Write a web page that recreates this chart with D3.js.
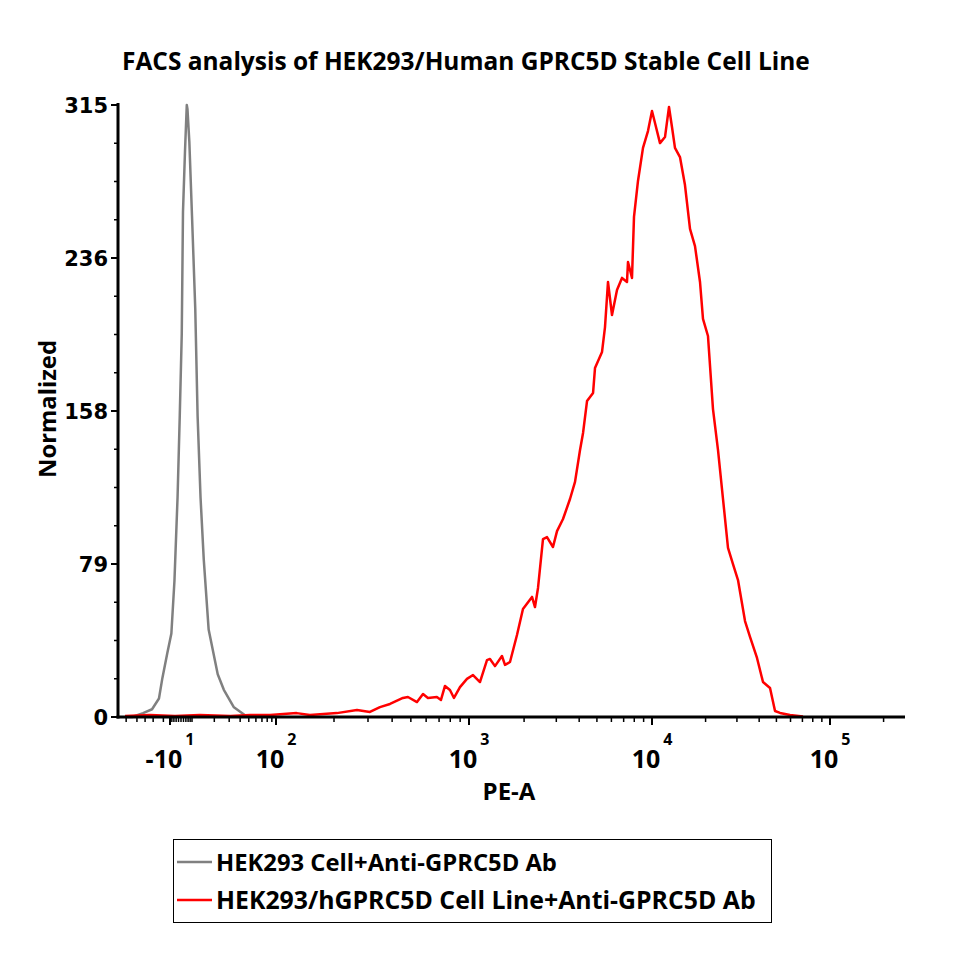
<!DOCTYPE html>
<html><head><meta charset="utf-8">
<script src="https://cdn.jsdelivr.net/npm/d3@7"></script>
<style>body{margin:0;background:#fff} svg{display:block}</style>
</head><body>
<script>
// ---------------- data ----------------
const title = "FACS analysis of HEK293/Human GPRC5D Stable Cell Line";
const xLabel = "PE-A";
const yLabel = "Normalized";
const seriesNames = ["HEK293 Cell+Anti-GPRC5D Ab", "HEK293/hGPRC5D Cell Line+Anti-GPRC5D Ab"];
const seriesColors = ["#808080", "#ff0000"];
const yMax = 315;
const yTickValues = [0, 78.75, 157.5, 236.25, 315];
const yTickLabels = ["0", "79", "158", "236", "315"];
const xMajorTicks = [-10, 100, 1000, 10000, 100000];
const xMajorBase = ["-10", "10", "10", "10", "10"];
const xMajorExp = ["1", "2", "3", "4", "5"];

// HEK293 cell (gray) — PE-A value and normalized count
const grayPE = [-552, -300, -119, -55, -30, -22, -13.5, -8.5, -5.5, -2.8, -1.0, 0.6, 1.6, 3.3, 4.8, 5.4, 7.2, 10, 11.2, 12.1, 13.3, 14.7, 17.0, 22, 26, 34, 45, 55];
const grayCount = [0, 0, 2, 4, 9.5, 20, 33, 43, 70, 113, 155, 197, 260, 292, 315, 313, 296, 258, 210, 155, 113, 81, 45, 22, 14, 5, 1, 0];

// HEK293/hGPRC5D (red)
const redPE = [-552, -66, -5, 13, 31, 52, 86, 128, 150, 207, 263, 307, 346, 390, 455, 483, 538, 578, 613, 682, 716, 751, 797, 836, 898, 976,
  1052, 1148, 1254, 1302, 1387, 1514, 1573, 1675, 1829, 1972, 2210, 2294, 2383, 2537, 2668, 2877, 3027, 3264, 3564, 3796, 4043, 4200, 4415, 4764, 4881,
  5332, 5536, 5748, 6045, 6438, 6855, 7300, 7393, 7775, 7973, 8384, 8929, 9506, 10000, 10396, 11090, 11830, 12460, 12950, 13460, 14360, 15320, 16350,
  17440, 18610, 19340, 20630, 22010, 23490, 25060, 26730, 28510, 30420, 33310, 35530, 38900, 42030, 46030, 49110, 52390, 59610, 70520];
const redCount = [0.5, 1, 0.5, 1, 0.5, 1, 1, 2, 1, 2, 3.6, 2.6, 5.1, 6.7, 9.8, 10.3, 7.7, 11.8, 9.8, 10.3, 8.8, 16, 13.9, 9.8, 15.4, 19.6,
  21.6, 18, 29.3, 29.9, 26.2, 31.4, 26.8, 28.3, 42.2, 55.6, 61.8, 56.6, 66.4, 91.6, 92.6, 87.5, 95.7, 101.9, 112.2, 121, 137.4, 146.2, 162.6, 166.8, 179.6,
  187.9, 200.7, 223.9, 206.9, 219.8, 226, 223.9, 234.2, 226, 257.4, 275.9, 292.9, 301.6, 311.9, 305.7, 295.4, 298.5, 314, 303.7, 292.9, 288.2, 273.8, 251.2,
  242.4, 223.9, 204.9, 196.1, 158.5, 137.4, 112.2, 87, 78.7, 70.5, 49.4, 41.2, 30.4, 18, 14.9, 3.1, 2.1, 1, 0.3];

// ---------------- layout ----------------
const W = 963, H = 963;
const svg = d3.select("body").append("svg").attr("width", W).attr("height", H);
const FONT = "'Open Sans', sans-serif";

// biexponential-like display transform
const T = v => Math.asinh(v / 10) / Math.LN10;
const xBreaks = [-1000, -10, 0, 10, 100, 1000, 10000, 100000];
const xPix = [118, 170, 181, 192, 276, 469, 652, 830];
const xs = d3.scaleLinear().domain(xBreaks.map(T)).range(xPix);
const x = v => xs(T(v));
const y = d3.scaleLinear().domain([0, yMax]).range([717, 105]);
const xLeft = 118, xRight = 905;

function fit(sel, width) {
  const w = sel.node().getComputedTextLength();
  const fs = parseFloat(sel.attr("font-size"));
  sel.attr("font-size", fs * width / w);
}

// title
const tt = svg.append("text").attr("x", 122).attr("y", 70)
  .attr("font-family", FONT).attr("font-weight", "bold").attr("font-size", 22).text(title);
fit(tt, 688);

// curves
const line = d3.line().x(d => x(d[0])).y(d => y(d[1]));
svg.append("path").datum(d3.zip(grayPE, grayCount)).attr("d", line)
  .attr("fill", "none").attr("stroke", seriesColors[0]).attr("stroke-width", 2.5).attr("stroke-linejoin", "round");
svg.append("path").datum(d3.zip(redPE, redCount)).attr("d", line)
  .attr("fill", "none").attr("stroke", seriesColors[1]).attr("stroke-width", 2.5).attr("stroke-linejoin", "round");

// y axis
svg.append("line").attr("x1", xLeft).attr("x2", xLeft).attr("y1", y(0) + 1.5).attr("y2", y(yMax) - 2)
  .attr("stroke", "#000").attr("stroke-width", 3);
const yMinor = d3.range(0, 17).map(i => i * yMax / 16);
svg.selectAll(".ymin").data(yMinor).enter().append("line")
  .attr("x1", xLeft - 4).attr("x2", xLeft).attr("y1", d => y(d)).attr("y2", d => y(d))
  .attr("stroke", "#000").attr("stroke-width", 1.5);
svg.selectAll(".ymaj").data(yTickValues).enter().append("line")
  .attr("x1", xLeft - 7).attr("x2", xLeft).attr("y1", d => y(d)).attr("y2", d => y(d))
  .attr("stroke", "#000").attr("stroke-width", 2);
svg.selectAll(".ylab").data(yTickValues).enter().append("text")
  .attr("x", 108).attr("y", d => y(d)).attr("dy", "0.36em").attr("text-anchor", "end")
  .attr("font-family", "'DejaVu Sans', sans-serif").attr("font-weight", "bold").attr("font-size", 21)
  .text((d, i) => yTickLabels[i]);

// x axis
svg.append("line").attr("x1", xLeft - 1.5).attr("x2", xRight).attr("y1", 717).attr("y2", 717)
  .attr("stroke", "#000").attr("stroke-width", 3);
let xMinor = [-20, -50, -100, -200, -500, -8, -6, -4, -2, 0, 2, 4, 6, 8, 10];
[10, 100, 1000, 10000, 100000].forEach(d => { for (let k = 2; k <= 9; k++) xMinor.push(k * d); });
xMinor = xMinor.filter(v => x(v) > xLeft + 2 && x(v) < xRight);
svg.selectAll(".xmin").data(xMinor).enter().append("line")
  .attr("x1", d => x(d)).attr("x2", d => x(d)).attr("y1", 717).attr("y2", 722)
  .attr("stroke", "#000").attr("stroke-width", 1.5);
svg.selectAll(".xmaj").data(xMajorTicks).enter().append("line")
  .attr("x1", d => x(d)).attr("x2", d => x(d)).attr("y1", 717).attr("y2", 725)
  .attr("stroke", "#000").attr("stroke-width", 2);
const xl = svg.selectAll(".xlab").data(xMajorTicks).enter().append("text")
  .attr("x", d => x(d)).attr("y", 768).attr("text-anchor", "middle")
  .attr("font-family", FONT).attr("font-weight", "bold");
xl.append("tspan").attr("font-size", 25).text((d, i) => xMajorBase[i]);
xl.append("tspan").attr("font-size", 16).attr("dx", 3).attr("dy", -23).text((d, i) => xMajorExp[i]);

// axis titles
svg.append("text").attr("x", 509).attr("y", 800).attr("text-anchor", "middle")
  .attr("font-family", FONT).attr("font-weight", "bold").attr("font-size", 24).text(xLabel);
const yl = svg.append("text").attr("transform", "translate(56,409) rotate(-90)").attr("text-anchor", "middle")
  .attr("font-family", FONT).attr("font-weight", "bold").attr("font-size", 24).text(yLabel);
fit(yl, 138);

// legend
svg.append("rect").attr("x", 173.5).attr("y", 839.5).attr("width", 598).attr("height", 83)
  .attr("fill", "none").attr("stroke", "#000").attr("stroke-width", 1);
const legY = [862, 900], legBase = [871, 909], legW = [341, 540];
seriesNames.forEach((name, i) => {
  svg.append("line").attr("x1", 177).attr("x2", 212).attr("y1", legY[i]).attr("y2", legY[i])
    .attr("stroke", seriesColors[i]).attr("stroke-width", 2.5);
  const t = svg.append("text").attr("x", 216).attr("y", legBase[i])
    .attr("font-family", FONT).attr("font-weight", "bold").attr("font-size", 22).text(name);
  fit(t, legW[i]);
});
</script>
</body></html>
